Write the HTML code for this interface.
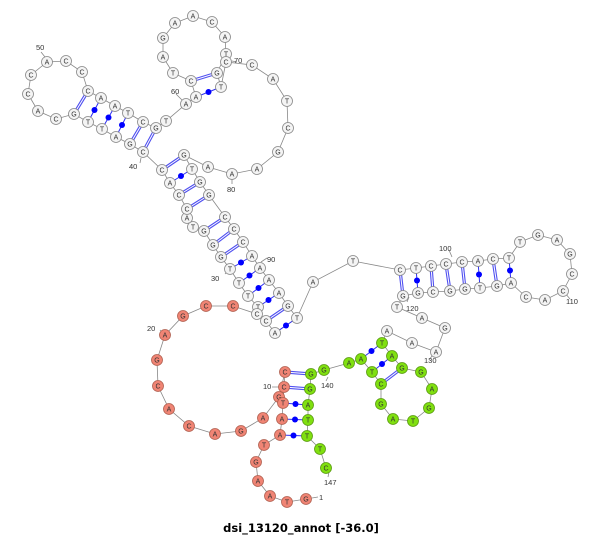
<!DOCTYPE html>
<html><head><meta charset="utf-8"><style>
html,body{margin:0;padding:0;background:#fff;width:600px;height:538px;overflow:hidden}
svg{display:block}
text{font-family:"Liberation Sans",sans-serif}
.n text{font-size:7px;text-anchor:middle;fill:#333}
.w circle{fill:#f4f4f4;stroke:#888;stroke-width:.8}
.r circle{fill:#f08474;stroke:#b06050;stroke-width:.8}
.g circle{fill:#80e010;stroke:#5a9a10;stroke-width:.8}
.lbl{font-size:7.5px;fill:#333}
</style></head><body>
<svg width="600" height="538" viewBox="0 0 600 538" xmlns="http://www.w3.org/2000/svg">
<g fill="none" stroke="#888" stroke-width="0.8">
<polyline points="306,499 287,502 270,496 258,481 256,462 264,445 280,435 282,419 283,403 284,387 285,372 279,397 263,418 241,431 215,434 189,426 169,409 158,386 157,360 165,335 183,316 206,306 233,306 257,314 258,307 248,296 239,283 230,269 221,257 213,245 204,231 193,227 187,218 187,209 179,195 170,183 162,170 143,152 130,144 116,137 102,129 88,122 74,114 56,119 38,111 28,94 31,75 47,62 66,61 82,72 88,91 101,98 115,106 128,113 143,122 156,128 166,121 186,104 196,97 191,81 173,73 163,57 163,38 175,23 193,16 212,22 225,37 226,54 217,73 221,87 226,62 252,65 273,79 287,101 288,128 278,152 257,169 232,174 208,167 184,155 192,169 200,182 209,195 225,217 234,229 243,242 252,256 260,268 269,280 279,293 288,306 297,318 313,282 353,261 400,270 416,268 431,266 446,264 462,262 478,261 493,259 509,258 520,242 538,235 557,240 570,254 572,274 563,291 545,300 526,297 511,283 497,286 480,288 465,289 450,291 433,292 418,293 403,296 397,307 422,318 445,328 436,352 412,343 387,331 382,343 392,356 402,368 421,372 432,389 429,408 413,421 393,419 381,404 381,384 372,372 361,359 349,363 324,370 311,374 310,389 308,405 308,420 307,436 320,449 326,468"/>
<polyline points="257,314 266,321 275,333 297,318"/>
<path d="M41,52L45,57M176,94L182,100M232,61L237,62M141,158L140,163M232,178L232,184M225,274L228,271M261,262L267,258M160,330L163,333M449,250L452,257M565,293L570,299M409,297L407,302M432,356L429,360M272,387L279,387M328,377L326,381M329,472L328,477M312,498L318,497"/>
</g>
<g stroke="#5050f0" stroke-width="3.2" fill="none">
<path d="M285,372L311,374M284,387L310,389M162,170L184,155M179,195L200,182M187,209L209,195M204,231L225,217M213,245L234,229M221,257L243,242M266,321L288,306M88,91L74,114M143,122L130,144M156,128L143,152M191,81L217,73M400,270L403,296M431,266L433,292M446,264L450,291M462,262L465,289M493,259L497,286M402,368L381,384"/>
</g>
<g stroke="#fff" stroke-width="1" fill="none">
<path d="M285,372L311,374M284,387L310,389M162,170L184,155M179,195L200,182M187,209L209,195M204,231L225,217M213,245L234,229M221,257L243,242M266,321L288,306M88,91L74,114M143,122L130,144M156,128L143,152M191,81L217,73M400,270L403,296M431,266L433,292M446,264L450,291M462,262L465,289M493,259L497,286M402,368L381,384"/>
</g>
<g stroke="#3030f0" stroke-width="1" fill="none">
<path d="M280,435L307,436M282,419L308,420M283,403L308,405M170,183L192,169M230,269L252,256M239,283L260,268M248,296L269,280M258,307L279,293M275,333L297,318M101,98L88,122M115,106L102,129M128,113L116,137M196,97L221,87M416,268L418,293M478,261L480,288M509,258L511,283M382,343L361,359M392,356L372,372"/>
</g>
<g fill="#0000ff">
<circle cx="293.5" cy="435.5" r="3"/><circle cx="295" cy="419.5" r="3"/><circle cx="295.5" cy="404" r="3"/><circle cx="181" cy="176" r="3"/><circle cx="241" cy="262.5" r="3"/><circle cx="249.5" cy="275.5" r="3"/><circle cx="258.5" cy="288" r="3"/><circle cx="268.5" cy="300" r="3"/><circle cx="286" cy="325.5" r="3"/><circle cx="94.5" cy="110" r="3"/><circle cx="108.5" cy="117.5" r="3"/><circle cx="122" cy="125" r="3"/><circle cx="208.5" cy="92" r="3"/><circle cx="417" cy="280.5" r="3"/><circle cx="479" cy="274.5" r="3"/><circle cx="510" cy="270.5" r="3"/><circle cx="371.5" cy="351" r="3"/><circle cx="382" cy="364" r="3"/>
</g>
<g class="n r">
<circle cx="306" cy="499" r="5.5"/><text x="306" y="501.5">G</text>
<circle cx="287" cy="502" r="5.5"/><text x="287" y="504.5">T</text>
<circle cx="270" cy="496" r="5.5"/><text x="270" y="498.5">A</text>
<circle cx="258" cy="481" r="5.5"/><text x="258" y="483.5">A</text>
<circle cx="256" cy="462" r="5.5"/><text x="256" y="464.5">G</text>
<circle cx="264" cy="445" r="5.5"/><text x="264" y="447.5">T</text>
<circle cx="280" cy="435" r="5.5"/><text x="280" y="437.5">A</text>
<circle cx="282" cy="419" r="5.5"/><text x="282" y="421.5">A</text>
<circle cx="279" cy="397" r="5.5"/><text x="279" y="399.5">G</text>
<circle cx="283" cy="403" r="5.5"/><text x="283" y="405.5">T</text>
<circle cx="284" cy="387" r="5.5"/><text x="284" y="389.5">C</text>
<circle cx="285" cy="372" r="5.5"/><text x="285" y="374.5">C</text>
<circle cx="263" cy="418" r="5.5"/><text x="263" y="420.5">A</text>
<circle cx="241" cy="431" r="5.5"/><text x="241" y="433.5">G</text>
<circle cx="215" cy="434" r="5.5"/><text x="215" y="436.5">A</text>
<circle cx="189" cy="426" r="5.5"/><text x="189" y="428.5">C</text>
<circle cx="169" cy="409" r="5.5"/><text x="169" y="411.5">A</text>
<circle cx="158" cy="386" r="5.5"/><text x="158" y="388.5">C</text>
<circle cx="157" cy="360" r="5.5"/><text x="157" y="362.5">G</text>
<circle cx="165" cy="335" r="5.5"/><text x="165" y="337.5">A</text>
<circle cx="183" cy="316" r="5.5"/><text x="183" y="318.5">G</text>
<circle cx="206" cy="306" r="5.5"/><text x="206" y="308.5">C</text>
<circle cx="233" cy="306" r="5.5"/><text x="233" y="308.5">C</text>
</g>
<g class="n w">
<circle cx="258" cy="307" r="5.5"/><text x="258" y="309.5">T</text>
<circle cx="257" cy="314" r="5.5"/><text x="257" y="316.5">C</text>
<circle cx="266" cy="321" r="5.5"/><text x="266" y="323.5">C</text>
<circle cx="275" cy="333" r="5.5"/><text x="275" y="335.5">A</text>
<circle cx="248" cy="296" r="5.5"/><text x="248" y="298.5">T</text>
<circle cx="239" cy="283" r="5.5"/><text x="239" y="285.5">T</text>
<circle cx="230" cy="269" r="5.5"/><text x="230" y="271.5">T</text>
<circle cx="221" cy="257" r="5.5"/><text x="221" y="259.5">G</text>
<circle cx="213" cy="245" r="5.5"/><text x="213" y="247.5">G</text>
<circle cx="204" cy="231" r="5.5"/><text x="204" y="233.5">G</text>
<circle cx="193" cy="227" r="5.5"/><text x="193" y="229.5">T</text>
<circle cx="187" cy="218" r="5.5"/><text x="187" y="220.5">A</text>
<circle cx="187" cy="209" r="5.5"/><text x="187" y="211.5">C</text>
<circle cx="179" cy="195" r="5.5"/><text x="179" y="197.5">C</text>
<circle cx="170" cy="183" r="5.5"/><text x="170" y="185.5">A</text>
<circle cx="162" cy="170" r="5.5"/><text x="162" y="172.5">C</text>
<circle cx="143" cy="152" r="5.5"/><text x="143" y="154.5">C</text>
<circle cx="130" cy="144" r="5.5"/><text x="130" y="146.5">G</text>
<circle cx="116" cy="137" r="5.5"/><text x="116" y="139.5">A</text>
<circle cx="102" cy="129" r="5.5"/><text x="102" y="131.5">T</text>
<circle cx="88" cy="122" r="5.5"/><text x="88" y="124.5">T</text>
<circle cx="74" cy="114" r="5.5"/><text x="74" y="116.5">G</text>
<circle cx="56" cy="119" r="5.5"/><text x="56" y="121.5">C</text>
<circle cx="38" cy="111" r="5.5"/><text x="38" y="113.5">A</text>
<circle cx="28" cy="94" r="5.5"/><text x="28" y="96.5">C</text>
<circle cx="31" cy="75" r="5.5"/><text x="31" y="77.5">C</text>
<circle cx="47" cy="62" r="5.5"/><text x="47" y="64.5">A</text>
<circle cx="66" cy="61" r="5.5"/><text x="66" y="63.5">C</text>
<circle cx="82" cy="72" r="5.5"/><text x="82" y="74.5">C</text>
<circle cx="88" cy="91" r="5.5"/><text x="88" y="93.5">C</text>
<circle cx="101" cy="98" r="5.5"/><text x="101" y="100.5">A</text>
<circle cx="115" cy="106" r="5.5"/><text x="115" y="108.5">A</text>
<circle cx="128" cy="113" r="5.5"/><text x="128" y="115.5">T</text>
<circle cx="143" cy="122" r="5.5"/><text x="143" y="124.5">C</text>
<circle cx="156" cy="128" r="5.5"/><text x="156" y="130.5">G</text>
<circle cx="166" cy="121" r="5.5"/><text x="166" y="123.5">T</text>
<circle cx="186" cy="104" r="5.5"/><text x="186" y="106.5">A</text>
<circle cx="196" cy="97" r="5.5"/><text x="196" y="99.5">A</text>
<circle cx="191" cy="81" r="5.5"/><text x="191" y="83.5">C</text>
<circle cx="173" cy="73" r="5.5"/><text x="173" y="75.5">T</text>
<circle cx="163" cy="57" r="5.5"/><text x="163" y="59.5">A</text>
<circle cx="163" cy="38" r="5.5"/><text x="163" y="40.5">G</text>
<circle cx="175" cy="23" r="5.5"/><text x="175" y="25.5">A</text>
<circle cx="193" cy="16" r="5.5"/><text x="193" y="18.5">A</text>
<circle cx="212" cy="22" r="5.5"/><text x="212" y="24.5">C</text>
<circle cx="225" cy="37" r="5.5"/><text x="225" y="39.5">A</text>
<circle cx="226" cy="54" r="5.5"/><text x="226" y="56.5">T</text>
<circle cx="226" cy="62" r="5.5"/><text x="226" y="64.5">C</text>
<circle cx="217" cy="73" r="5.5"/><text x="217" y="75.5">G</text>
<circle cx="221" cy="87" r="5.5"/><text x="221" y="89.5">T</text>
<circle cx="252" cy="65" r="5.5"/><text x="252" y="67.5">C</text>
<circle cx="273" cy="79" r="5.5"/><text x="273" y="81.5">A</text>
<circle cx="287" cy="101" r="5.5"/><text x="287" y="103.5">T</text>
<circle cx="288" cy="128" r="5.5"/><text x="288" y="130.5">C</text>
<circle cx="278" cy="152" r="5.5"/><text x="278" y="154.5">G</text>
<circle cx="257" cy="169" r="5.5"/><text x="257" y="171.5">A</text>
<circle cx="232" cy="174" r="5.5"/><text x="232" y="176.5">A</text>
<circle cx="208" cy="167" r="5.5"/><text x="208" y="169.5">A</text>
<circle cx="184" cy="155" r="5.5"/><text x="184" y="157.5">G</text>
<circle cx="192" cy="169" r="5.5"/><text x="192" y="171.5">T</text>
<circle cx="200" cy="182" r="5.5"/><text x="200" y="184.5">G</text>
<circle cx="209" cy="195" r="5.5"/><text x="209" y="197.5">G</text>
<circle cx="225" cy="217" r="5.5"/><text x="225" y="219.5">C</text>
<circle cx="234" cy="229" r="5.5"/><text x="234" y="231.5">C</text>
<circle cx="243" cy="242" r="5.5"/><text x="243" y="244.5">C</text>
<circle cx="252" cy="256" r="5.5"/><text x="252" y="258.5">A</text>
<circle cx="260" cy="268" r="5.5"/><text x="260" y="270.5">A</text>
<circle cx="269" cy="280" r="5.5"/><text x="269" y="282.5">A</text>
<circle cx="279" cy="293" r="5.5"/><text x="279" y="295.5">A</text>
<circle cx="288" cy="306" r="5.5"/><text x="288" y="308.5">G</text>
<circle cx="297" cy="318" r="5.5"/><text x="297" y="320.5">T</text>
<circle cx="313" cy="282" r="5.5"/><text x="313" y="284.5">A</text>
<circle cx="353" cy="261" r="5.5"/><text x="353" y="263.5">T</text>
<circle cx="400" cy="270" r="5.5"/><text x="400" y="272.5">C</text>
<circle cx="416" cy="268" r="5.5"/><text x="416" y="270.5">T</text>
<circle cx="431" cy="266" r="5.5"/><text x="431" y="268.5">C</text>
<circle cx="446" cy="264" r="5.5"/><text x="446" y="266.5">C</text>
<circle cx="462" cy="262" r="5.5"/><text x="462" y="264.5">C</text>
<circle cx="478" cy="261" r="5.5"/><text x="478" y="263.5">A</text>
<circle cx="493" cy="259" r="5.5"/><text x="493" y="261.5">C</text>
<circle cx="509" cy="258" r="5.5"/><text x="509" y="260.5">T</text>
<circle cx="520" cy="242" r="5.5"/><text x="520" y="244.5">T</text>
<circle cx="538" cy="235" r="5.5"/><text x="538" y="237.5">G</text>
<circle cx="557" cy="240" r="5.5"/><text x="557" y="242.5">A</text>
<circle cx="570" cy="254" r="5.5"/><text x="570" y="256.5">G</text>
<circle cx="572" cy="274" r="5.5"/><text x="572" y="276.5">C</text>
<circle cx="563" cy="291" r="5.5"/><text x="563" y="293.5">C</text>
<circle cx="545" cy="300" r="5.5"/><text x="545" y="302.5">A</text>
<circle cx="526" cy="297" r="5.5"/><text x="526" y="299.5">C</text>
<circle cx="511" cy="283" r="5.5"/><text x="511" y="285.5">A</text>
<circle cx="497" cy="286" r="5.5"/><text x="497" y="288.5">G</text>
<circle cx="480" cy="288" r="5.5"/><text x="480" y="290.5">T</text>
<circle cx="465" cy="289" r="5.5"/><text x="465" y="291.5">G</text>
<circle cx="450" cy="291" r="5.5"/><text x="450" y="293.5">G</text>
<circle cx="433" cy="292" r="5.5"/><text x="433" y="294.5">C</text>
<circle cx="418" cy="293" r="5.5"/><text x="418" y="295.5">G</text>
<circle cx="403" cy="296" r="5.5"/><text x="403" y="298.5">G</text>
<circle cx="397" cy="307" r="5.5"/><text x="397" y="309.5">T</text>
<circle cx="422" cy="318" r="5.5"/><text x="422" y="320.5">A</text>
<circle cx="445" cy="328" r="5.5"/><text x="445" y="330.5">G</text>
<circle cx="436" cy="352" r="5.5"/><text x="436" y="354.5">A</text>
<circle cx="412" cy="343" r="5.5"/><text x="412" y="345.5">A</text>
<circle cx="387" cy="331" r="5.5"/><text x="387" y="333.5">A</text>
</g>
<g class="n g">
<circle cx="382" cy="343" r="5.5"/><text x="382" y="345.5">T</text>
<circle cx="392" cy="356" r="5.5"/><text x="392" y="358.5">A</text>
<circle cx="402" cy="368" r="5.5"/><text x="402" y="370.5">G</text>
<circle cx="421" cy="372" r="5.5"/><text x="421" y="374.5">G</text>
<circle cx="432" cy="389" r="5.5"/><text x="432" y="391.5">A</text>
<circle cx="429" cy="408" r="5.5"/><text x="429" y="410.5">G</text>
<circle cx="413" cy="421" r="5.5"/><text x="413" y="423.5">T</text>
<circle cx="393" cy="419" r="5.5"/><text x="393" y="421.5">A</text>
<circle cx="381" cy="404" r="5.5"/><text x="381" y="406.5">G</text>
<circle cx="381" cy="384" r="5.5"/><text x="381" y="386.5">C</text>
<circle cx="372" cy="372" r="5.5"/><text x="372" y="374.5">T</text>
<circle cx="361" cy="359" r="5.5"/><text x="361" y="361.5">A</text>
<circle cx="349" cy="363" r="5.5"/><text x="349" y="365.5">A</text>
<circle cx="324" cy="370" r="5.5"/><text x="324" y="372.5">G</text>
<circle cx="311" cy="374" r="5.5"/><text x="311" y="376.5">G</text>
<circle cx="310" cy="389" r="5.5"/><text x="310" y="391.5">G</text>
<circle cx="308" cy="405" r="5.5"/><text x="308" y="407.5">A</text>
<circle cx="308" cy="420" r="5.5"/><text x="308" y="422.5">T</text>
<circle cx="307" cy="436" r="5.5"/><text x="307" y="438.5">T</text>
<circle cx="320" cy="449" r="5.5"/><text x="320" y="451.5">T</text>
<circle cx="326" cy="468" r="5.5"/><text x="326" y="470.5">C</text>
</g>
<g class="lbl">
<text x="36" y="50">50</text><text x="171" y="94">60</text><text x="234" y="63">70</text>
<text x="129" y="169">40</text><text x="227" y="192">80</text><text x="211" y="281">30</text>
<text x="267" y="262">90</text><text x="147" y="331">20</text><text x="439" y="251">100</text>
<text x="566" y="304">110</text><text x="406" y="311">120</text><text x="424" y="363">130</text>
<text x="263" y="389">10</text><text x="321" y="388">140</text><text x="324" y="485">147</text>
<text x="319" y="500">1</text>
</g>
<text x="301" y="532" font-size="11.5" font-weight="bold" text-anchor="middle" fill="#000" style="font-family:'DejaVu Sans',sans-serif">dsi_13120_annot [-36.0]</text>
</svg>
</body></html>
